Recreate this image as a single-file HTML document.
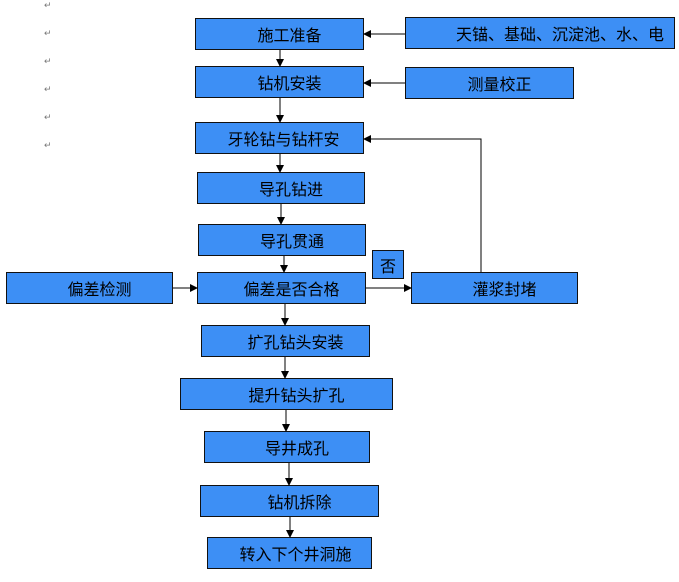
<!DOCTYPE html>
<html><head><meta charset="utf-8"><style>
body{margin:0;width:679px;height:582px;background:#fff;position:relative;overflow:hidden;font-family:"Liberation Sans","Noto Sans CJK SC",sans-serif}
.b{position:absolute;background:#3d8ff5;border:1px solid #111;box-sizing:border-box;font-size:16px;color:#000;display:flex;align-items:center;justify-content:center;white-space:nowrap;padding-left:20px}
.r{position:absolute;left:44px;font-size:9px;color:#777}
svg{position:absolute;left:0;top:0}
</style></head><body>
<div class="r" style="top:0">↵</div><div class="r" style="top:28px">↵</div><div class="r" style="top:56px">↵</div><div class="r" style="top:84px">↵</div><div class="r" style="top:112px">↵</div><div class="r" style="top:140px">↵</div>
<div class="b" style="left:195px;top:18px;width:169px;height:32px">施工准备</div>
<div class="b" style="left:405px;top:17px;width:270px;height:32px;padding-left:40px">天锚、基础、沉淀池、水、电</div>
<div class="b" style="left:195px;top:66px;width:169px;height:32px">钻机安装</div>
<div class="b" style="left:405px;top:67px;width:169px;height:32px">测量校正</div>
<div class="b" style="left:195px;top:122px;width:169px;height:32px;padding-left:8px">牙轮钻与钻杆安</div>
<div class="b" style="left:197px;top:172px;width:168px;height:32px">导孔钻进</div>
<div class="b" style="left:198px;top:224px;width:168px;height:32px">导孔贯通</div>
<div class="b" style="left:372px;top:250px;width:32px;height:29px;padding-left:0">否</div>
<div class="b" style="left:6px;top:272px;width:167px;height:32px">偏差检测</div>
<div class="b" style="left:197px;top:272px;width:169px;height:32px">偏差是否合格</div>
<div class="b" style="left:411px;top:272px;width:167px;height:32px">灌浆封堵</div>
<div class="b" style="left:201px;top:325px;width:169px;height:32px">扩孔钻头安装</div>
<div class="b" style="left:180px;top:378px;width:213px;height:32px">提升钻头扩孔</div>
<div class="b" style="left:204px;top:431px;width:166px;height:32px">导井成孔</div>
<div class="b" style="left:200px;top:485px;width:179px;height:32px">钻机拆除</div>
<div class="b" style="left:207px;top:537px;width:165px;height:32px;padding-left:12px">转入下个井洞施</div>
<svg width="679" height="582"><defs><marker id="a" markerWidth="8" markerHeight="8" refX="7" refY="4" orient="auto" markerUnits="userSpaceOnUse"><path d="M0,0L8,4L0,8z" fill="#000"/></marker></defs>
<g stroke="#000" stroke-width="1" fill="none" marker-end="url(#a)">
<line x1="280" y1="50" x2="280" y2="66"/>
<line x1="280" y1="98" x2="280" y2="122"/>
<line x1="280" y1="154" x2="280" y2="172"/>
<line x1="281" y1="204" x2="281" y2="224"/>
<line x1="284" y1="256" x2="284" y2="272"/>
<line x1="285" y1="304" x2="285" y2="325"/>
<line x1="285" y1="357" x2="285" y2="378"/>
<line x1="286" y1="410" x2="286" y2="431"/>
<line x1="289" y1="463" x2="289" y2="485"/>
<line x1="290" y1="517" x2="290" y2="537"/>
<line x1="405" y1="34" x2="364" y2="34"/>
<line x1="405" y1="83" x2="364" y2="83"/>
<line x1="173" y1="288" x2="197" y2="288"/>
<line x1="366" y1="288" x2="411" y2="288"/>
<polyline points="481,272 481,139 364,139"/>
</g></svg>
</body></html>
